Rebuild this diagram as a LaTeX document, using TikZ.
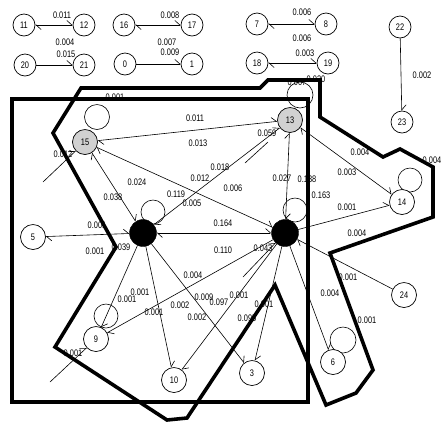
\documentclass[tikz,border=0pt]{standalone}
\usepackage{fontspec}
\newfontfamily\labfont[FakeStretch=0.78]{Liberation Sans}
\usetikzlibrary{arrows.meta}
\begin{document}
\begin{tikzpicture}[x=1pt,y=-1pt,
  every node/.style={font=\labfont\fontsize{9.5}{10}\selectfont},
  pn/.style={circle,draw,fill=white,line width=0.7pt,minimum size=22pt,inner sep=0pt},
  gn/.style={circle,draw,fill=white,line width=0.7pt,minimum size=25pt,inner sep=0pt},
  hn/.style={gn,fill=black!18},
  bn/.style={circle,draw,fill=black,minimum size=27pt,inner sep=0pt},
  lab/.style={inner sep=0pt},
  ed/.style={line width=0.6pt},
  poly/.style={line width=3.6pt,line join=miter},
  >={Straight Barb[harpoon,length=5pt,width=9pt]}
]
\useasboundingbox (0,0) rectangle (446,424);
% thick outlines
\draw[poly] (12,99) rectangle (308,402);
\draw[poly] (81,88) -- (260,88) -- (268,80) -- (320,80) -- (320,117) -- (383,157) -- (400,149) -- (433,167) -- (433,217) -- (330,253) -- (373,370) -- (356,393) -- (326,405) -- (275,285) -- (187,418) -- (167,420) -- (55,347) -- (116,247) -- (53,133) -- cycle;
% self loops
\draw[ed] (97,117) circle[radius=12.5pt];
\draw[ed] (153,212) circle[radius=12pt];
\draw[ed] (295,210) circle[radius=12pt];
\draw[ed] (300,95) circle[radius=13pt];
\draw[ed] (410,180) circle[radius=12pt];
\draw[ed] (106,316) circle[radius=12pt];
\draw[ed] (343,340) circle[radius=13pt];
% isolated pairs
\node[pn] (n11) at (24,25) {11};
\node[pn] (n12) at (84,25) {12};
\node[pn] (n16) at (124,25) {16};
\node[pn] (n17) at (192,25) {17};
\node[pn] (n7) at (257,24) {7};
\node[pn] (n8) at (326,24) {8};
\node[pn] (n22) at (400,27) {22};
\node[pn] (n23) at (402,122) {23};
\node[pn] (n20) at (25,65) {20};
\node[pn] (n21) at (84,65) {21};
\node[pn] (n0) at (125,64) {0};
\node[pn] (n1) at (192,64) {1};
\node[pn] (n18) at (257,63) {18};
\node[pn] (n19) at (328,63) {19};
% main nodes
\node[hn] (n15) at (85,142) {15};
\node[hn] (n13) at (290,120) {13};
\node[gn] (n14) at (402,202) {14};
\node[gn] (n5) at (33,237) {5};
\node[gn] (n9) at (96,339) {9};
\node[gn] (n10) at (174,380) {10};
\node[gn] (n3) at (252,373) {3};
\node[gn] (n6) at (333,362) {6};
\node[gn] (n24) at (404,295) {24};
\node[bn] (nA) at (143,233) {};
\node[bn] (nB) at (285,233) {};
\coordinate (s15) at (43,182);
\coordinate (s9) at (50,382);
\coordinate (s13a) at (245,163);
\coordinate (s13b) at (268,142);
\coordinate (sB) at (243,277);
% pair edges
\draw[ed,<->] (n11) -- (n12);
\draw[ed,->] (n20) -- (n21);
\draw[ed,<->] (n16) -- (n17);
\draw[ed,->] (n0) -- (n1);
\draw[ed,<->] (n7) -- (n8);
\draw[ed,<->] (n18) -- (n19);
\draw[ed,->] (n22) -- (n23);
% main edges
\draw[ed,<->] (n5) -- (nA);
\draw[ed,<->] (n15) -- (nA);
\draw[ed,<->] (n15) -- (nB);
\draw[ed,<->] (n15) -- (n13);
\draw[ed,<->] (nA) -- (n13);
\draw[ed,<->] (nA) -- (nB);
\draw[ed,<->] (n13) -- (nB);
\draw[ed,<->] (n13) -- (n14);
\draw[ed,->] (nB) -- (n14);
\draw[ed,->] (n24) -- (nB);
\draw[ed,->] (nB) -- (n6);
\draw[ed,->] (nB) -- (n3);
\draw[ed,->] (nB) -- (n9);
\draw[ed,->] (nB) -- (n10);
\draw[ed,->] (nA) -- (n3);
\draw[ed,->] (nA) -- (n10);
\draw[ed,->] (nA) -- (n9);
\draw[ed,->] (s15) -- (n15);
\draw[ed,->] (s9) -- (n9);
\draw[ed] (s13a) -- (s13b);
\draw[ed,->] (sB) -- (nB);
% labels
\node[lab] (l1) at (62,15) {0.011};
\node[lab] (l2) at (65,42) {0.004};
\node[lab] (l3) at (66,54) {0.015};
\node[lab] (l4) at (170,15) {0.008};
\node[lab] (l5) at (167,42) {0.007};
\node[lab] (l6) at (170,52) {0.009};
\node[lab] (l7) at (302,12) {0.006};
\node[lab] (l8) at (302,38) {0.006};
\node[lab] (l9) at (305,53) {0.003};
\node[lab] (l10) at (422,75) {0.002};
\node[lab] (l11) at (115,97) {0.001};
\node[lab] (l12) at (297,82) {0.007};
\node[lab] (l13) at (316,79) {0.020};
\node[lab] (l14) at (195,118) {0.011};
\node[lab] (l15) at (198,143) {0.013};
\node[lab] (l16) at (63,154) {0.012};
\node[lab] (l17) at (267,133) {0.059};
\node[lab] (l18) at (220,167) {0.018};
\node[lab] (l19) at (200,178) {0.012};
\node[lab] (l20) at (137,182) {0.024};
\node[lab] (l21) at (113,197) {0.038};
\node[lab] (l22) at (176,194) {0.119};
\node[lab] (l23) at (192,203) {0.005};
\node[lab] (l24) at (233,188) {0.006};
\node[lab] (l25) at (282,178) {0.027};
\node[lab] (l26) at (307,179) {0.138};
\node[lab] (l27) at (321,195) {0.163};
\node[lab] (l28) at (347,172) {0.003};
\node[lab] (l29) at (360,152) {0.004};
\node[lab] (l30) at (432,160) {0.004};
\node[lab] (l31) at (347,207) {0.001};
\node[lab] (l32) at (357,233) {0.004};
\node[lab] (l33) at (223,223) {0.164};
\node[lab] (l34) at (223,250) {0.110};
\node[lab] (l35) at (263,248) {0.043};
\node[lab] (l36) at (97,225) {0.001};
\node[lab] (l37) at (95,251) {0.001};
\node[lab] (l38) at (121,247) {0.039};
\node[lab] (l39) at (193,275) {0.004};
\node[lab] (l40) at (127,299) {0.001};
\node[lab] (l41) at (140,292) {0.001};
\node[lab] (l42) at (154,312) {0.001};
\node[lab] (l43) at (180,305) {0.002};
\node[lab] (l44) at (197,317) {0.002};
\node[lab] (l45) at (204,297) {0.009};
\node[lab] (l46) at (219,302) {0.097};
\node[lab] (l47) at (239,295) {0.001};
\node[lab] (l48) at (264,304) {0.001};
\node[lab] (l49) at (247,318) {0.095};
\node[lab] (l50) at (73,353) {0.001};
\node[lab] (l51) at (348,277) {0.001};
\node[lab] (l52) at (330,293) {0.004};
\node[lab] (l53) at (367,320) {0.001};
\end{tikzpicture}
\end{document}
